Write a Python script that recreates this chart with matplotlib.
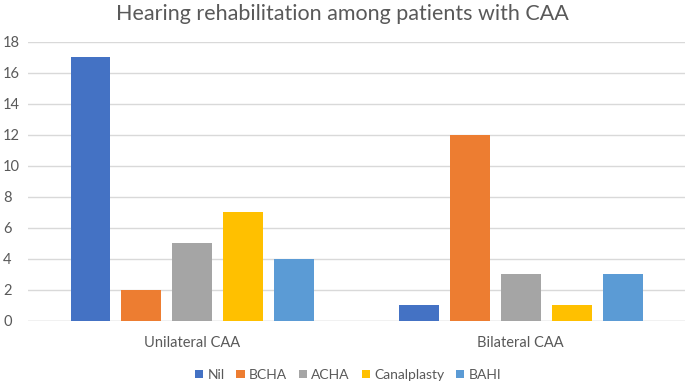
import numpy as np
import matplotlib
matplotlib.use("Agg")
import matplotlib.pyplot as plt

plt.rcParams["font.family"] = ["Lato", "DejaVu Sans"]

groups = ["Unilateral CAA", "Bilateral CAA"]
series = ["Nil", "BCHA", "ACHA", "Canalplasty", "BAHI"]
values = {
    "Nil": [17, 1],
    "BCHA": [2, 12],
    "ACHA": [5, 3],
    "Canalplasty": [7, 1],
    "BAHI": [4, 3],
}
colors = ["#4472C4", "#ED7D31", "#A5A5A5", "#FFC000", "#5B9BD5"]
yticks = [0, 2, 4, 6, 8, 10, 12, 14, 16, 18]

fig = plt.figure(figsize=(6.85, 3.81), dpi=100)
ax = fig.add_axes([0.041, 0.158, 0.959, 0.732])

x = np.arange(len(groups))
width = 0.1216
step = 0.155
for i, (name, c) in enumerate(zip(series, colors)):
    ax.bar(x + (i - 2) * step, values[name], width, color=c, label=name, zorder=3)

ax.set_xlim(-0.5, 1.5)
ax.set_ylim(0, 18)
ax.set_yticks(yticks)
ax.set_xticks(x)
ax.set_xticklabels(groups)
ax.grid(axis="y", color="#D9D9D9", linewidth=1, zorder=0)
for s in ax.spines.values():
    s.set_visible(False)
ax.axhline(0, color="#D9D9D9", linewidth=1, zorder=1)
ax.tick_params(length=0, labelsize=10.5, colors="#595959")
ax.tick_params(axis="x", pad=11)
ax.tick_params(axis="y", pad=18)
for lbl in ax.get_yticklabels():
    lbl.set_horizontalalignment("left")

fig.suptitle("Hearing rehabilitation among patients with CAA", y=0.99,
             fontsize=15.5, color="#595959")
fig.legend(loc="center", bbox_to_anchor=(0.508, 0.016), ncol=5, frameon=False,
           fontsize=10, labelcolor="#595959", handlelength=0.6, handleheight=0.6,
           handletextpad=0.3, columnspacing=0.85)

fig.savefig("out.png", dpi=100)
